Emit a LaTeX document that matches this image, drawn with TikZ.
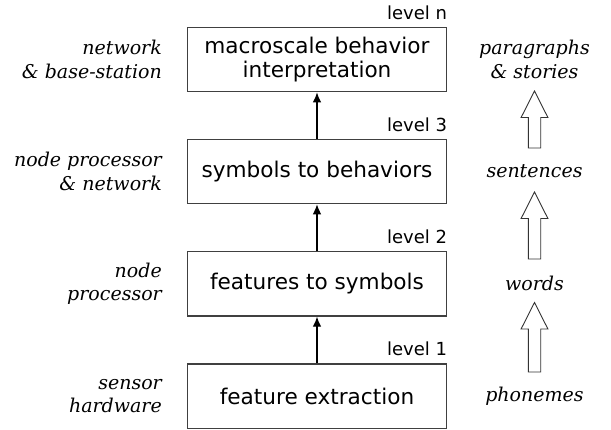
\documentclass[tikz,border=0pt]{standalone}
\usepackage{fontspec}
\setmainfont{DejaVu Sans}
\newfontfamily\serifit{DejaVu Serif}
\usetikzlibrary{arrows.meta}
\tikzset{
  levelbox/.style={draw=black!75, line width=1.2pt, minimum width=259.4pt, minimum height=64.3pt,
    inner sep=0pt, align=center, font=\fontsize{21.6}{24}\selectfont},
  levellabel/.style={anchor=base east, inner sep=0pt, font=\fontsize{18}{20}\selectfont},
  sidelabel/.style={inner sep=0pt, align=right, font=\serifit\itshape\fontsize{19}{23.5}\selectfont},
  langlabel/.style={inner sep=0pt, align=center, font=\serifit\itshape\fontsize{19}{23.5}\selectfont},
  uparrow/.style={-{Latex[length=10pt,width=8.5pt]}, line width=1.2pt},
  hollow/.style={draw=black!80, line width=0.9pt, fill=white}
}
\newcommand{\hollowarrow}[3]{% x, top, bottom
  \draw[hollow] (#1-6.2,#3) -- (#1-6.2,#2+26.5) -- (#1-13.4,#2+26.5) -- (#1,#2) -- (#1+13.4,#2+26.5) -- (#1+6.2,#2+26.5) -- (#1+6.2,#3) -- cycle;}
\begin{document}
\begin{tikzpicture}[x=1pt,y=-1pt]
\useasboundingbox (0,0) rectangle (611,429);
% boxes
\node[levelbox] (bn) at (317,59.6) {macroscale behavior\\interpretation};
\node[levelbox] (b3) at (317,171.5) {symbols to behaviors};
\node[levelbox] (b2) at (317,283.9) {features to symbols};
\node[levelbox] (b1) at (317,396.1) {feature extraction};
% level labels
\node[levellabel] (ln) at ([yshift=7.5pt]bn.north east) {level n};
\node[levellabel] (l3) at ([yshift=7.5pt]b3.north east) {level 3};
\node[levellabel] (l2) at ([yshift=7.5pt]b2.north east) {level 2};
\node[levellabel] (l1) at ([yshift=7.5pt]b1.north east) {level 1};
% connectors
\draw[uparrow] (b1.north) -- (b2.south);
\draw[uparrow] (b2.north) -- (b3.south);
\draw[uparrow] (b3.north) -- (bn.south);
% left labels
\node[sidelabel, anchor=east] (hn) at (162,59.6) {network\\\&~base-station};
\node[sidelabel, anchor=east] (h3) at (162,171.5) {node processor\\\&~network};
\node[sidelabel, anchor=east] (h2) at (162,283.9) {node\\processor};
\node[sidelabel, anchor=east] (h1) at (162,396.1) {sensor\\hardware};
% right labels
\node[langlabel] (rn) at (534.5,59.6) {paragraphs\\\&~stories};
\node[langlabel] (r3) at (534.5,171.5) {sentences};
\node[langlabel] (r2) at (534.5,283.9) {words};
\node[langlabel] (r1) at (534.5,396.1) {phonemes};
% hollow arrows
\hollowarrow{534.5}{91}{148}
\hollowarrow{534.5}{192}{259}
\hollowarrow{534.5}{302.5}{372}
\end{tikzpicture}
\end{document}
